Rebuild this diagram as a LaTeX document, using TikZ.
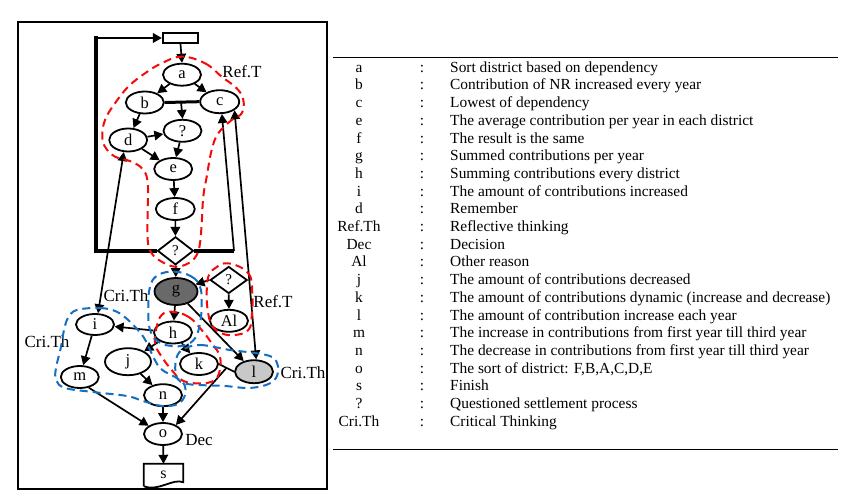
\documentclass[tikz,border=0pt]{standalone}
\usepackage{fontspec}
\setmainfont{Liberation Serif}
\usetikzlibrary{arrows.meta,shapes.geometric}
\definecolor{rdash}{RGB}{245,10,10}
\definecolor{bdash}{RGB}{20,110,195}
\definecolor{gdark}{RGB}{105,105,105}
\definecolor{glight}{RGB}{200,200,200}
\newcommand{\tabrow}[4]{%
  \node[tb, anchor=base] (k#1) at (359,#2) {#3};
  \node[tb, anchor=base] (c#1) at (422,#2) {:};
  \node[tb, anchor=base west] (d#1) at (450,#2) {#4};}
\begin{document}
\begin{tikzpicture}[x=1pt,y=-1pt,
  el/.style={ellipse, draw, fill=white, line width=1.8pt, inner sep=0pt,
    minimum width=38pt, minimum height=22pt, font=\fontsize{16.5}{18}\selectfont},
  dia/.style={diamond, draw, fill=white, line width=1.8pt, inner sep=0pt, aspect=1.3,
    minimum width=36pt, minimum height=28pt, font=\fontsize{15}{17}\selectfont},
  arr/.style={line width=1.7pt, -{Triangle[length=9pt,width=9.5pt]}},
  darr/.style={line width=1.7pt, {Triangle[length=9pt,width=9.5pt]}-{Triangle[length=9pt,width=9.5pt]}},
  conn/.style={line width=1.7pt},
  thickl/.style={line width=3.5pt},
  rdsh/.style={draw=rdash, line width=2pt, dash pattern=on 8pt off 5pt},
  bdsh/.style={draw=bdash, line width=2pt, dash pattern=on 8pt off 5pt},
  lbl/.style={font=\fontsize{17}{19}\selectfont, inner sep=0pt},
  tb/.style={font=\fontsize{15.4}{17.7}\selectfont, inner sep=0pt}
]
\useasboundingbox (0,0) rectangle (846,502);
\fill[white] (0,0) rectangle (846,502);

% frame of the diagram
\draw[line width=2pt] (18,22) rectangle (327,489);

% labels
\node[lbl] (rt1) at (242,72) {Ref.T};
\node[lbl] (rt2) at (273,302) {Ref.T};
\node[lbl] (ct1) at (126,296) {Cri.Th};
\node[lbl] (ct2) at (47,342) {Cri.Th};
\node[lbl] (ct3) at (303,373) {Cri.Th};
\node[lbl] (dec) at (199,440) {Dec};

% nodes
\node[draw, line width=2.2pt, minimum width=35pt, minimum height=10pt, inner sep=0pt] (st) at (180.5,38) {};
\node[el] (a) at (182,74.7) {a};
\node[el] (b) at (144.8,102.5) {b};
\node[el, minimum width=39pt, minimum height=23pt] (c) at (219.7,101.7) {c};
\node[el] (q1) at (182.5,130.8) {?};
\node[el, minimum height=23pt] (d) at (128.2,140) {d};
\node[el] (e) at (173.2,169) {e};
\node[el, minimum width=39pt] (f) at (175.3,209) {f};
\node[dia] (q2) at (175.5,250.8) {?};
\node[el, fill=gdark, minimum width=43pt, minimum height=27pt] (g) at (176,291.5) {g};
\node[dia, minimum width=37pt, minimum height=27pt] (q3) at (228.7,280) {?};
\node[el] (al) at (229,320.8) {Al};
\node[el] (h) at (173,332.5) {h};
\node[el, minimum height=21pt] (i) at (95,324.5) {i};
\node[el, minimum width=46pt, minimum height=27pt] (j) at (128,361.7) {j};
\node[el] (k) at (199,364) {k};
\node[el, fill=glight, minimum height=23pt] (l) at (254,371.7) {l};
\node[el] (m) at (79.8,377) {m};
\node[el] (n) at (163,395.2) {n};
\node[el] (o) at (163,434) {o};
\node[inner sep=0pt, minimum width=39pt, minimum height=22pt, font=\fontsize{16}{18}\selectfont] (s) at (163.5,475) {s};
\draw[line width=1.8pt] (s.south west) -- (s.north west) -- (s.north east) -- ([yshift=4pt]s.south east)
  .. controls (173,478) and (158,492) .. (s.south west);

% connectors
\draw[arr] (st.south) -- (a.north);
\draw[arr] (a) -- (b);
\draw[arr] (a) -- (c);
\draw[line width=3pt] (b.east) -- (c.west);
\coordinate (bc) at (181,101.5);
\draw[arr] (bc) -- (q1.north);
\draw[arr] (b) -- (d);
\draw[arr] (d) -- (q1);
\draw[arr] (d) -- (e);
\draw[arr] (q1) -- (e);
\draw[arr] (e) -- (f);
\draw[arr] (f) -- (q2);
\draw[arr] (q2) -- (g);
\coordinate (lp1) at (96,250.8);
\coordinate (lp2) at (96,36.3);
\coordinate (lp3) at (96,38);
\draw[thickl] (q2.west) -- (lp1) -- (lp2);
\draw[arr, line width=2pt] (lp3) -- (st.west);
\coordinate (rp) at (234,250.8);
\draw[thickl] (q2.east) -- (rp);
\draw[arr] (rp) -- (c.-80);
\draw[darr] (l.80) -- (c.-30);
\draw[darr] (i.75) -- (d.-110);
\draw[arr] (q3.west) -- (g.20);
\draw[arr] (q3.south) -- (al.north);
\draw[arr] (g) -- (h);
\draw[arr] (g) -- (l);
\draw[arr] (h) -- (i);
\draw[arr] (h) -- (j);
\draw[arr] (h) -- (k);
\draw[arr] (i) -- (m);
\draw[arr] (j) -- (n);
\draw[conn] (k.east) -- (l.west);
\path (k.east) -- (l.west) coordinate[pos=0.5] (kl);
\draw[arr] (kl) -- (o.35);
\draw[arr] (m.-50) -- (o.150);
\draw[arr] (n) -- (o);
\draw[arr] (o) -- (s.north);

% dashed groupings
\draw[rdsh] plot[smooth cycle, tension=0.7] coordinates {
 (181.7,56.7) (205,63.3) (221.7,76.7) (236.7,88.3) (243.3,100) (241.7,113.3)
 (231.7,120) (218.3,133.3) (211.7,150) (206.7,176.7) (203.3,196.7) (201.7,223.3)
 (200,243.3) (196.7,255) (188.3,263.3) (175,266.7) (161.7,261.7) (151.7,253.3)
 (147.7,240) (147.7,210) (147.7,183.3) (143.3,170) (131.7,161.7) (115,156.7)
 (105,146.7) (102.3,136.7) (105,120) (115,103.3) (128.3,86.7) (145,73.3) (161.7,63.3)};
\draw[rdsh] plot[smooth cycle, tension=0.7] coordinates {
 (228.3,263.3) (248.3,273.3) (252.3,293.3) (251.7,316.7) (248.3,330) (235,335)
 (221.7,333.3) (211.7,325) (207.7,310) (206.7,293.3) (208.3,276.7) (215,268.3)};
\draw[rdsh] plot[smooth cycle, tension=0.7] coordinates {
 (171.7,311.7) (188.3,316.7) (201.7,330) (211.7,343.3) (220,356.7) (219,373.3)
 (211.7,381.7) (195,383.3) (181.7,380) (171.7,370) (161.7,356.7) (155,343.3)
 (156.7,326.7) (161.7,315)};
\draw[bdsh] plot[smooth cycle, tension=0.7] coordinates {
 (175,271.7) (191.7,276.7) (200,286.7) (201.7,303.3) (200,323.3) (195,338.3)
 (185,345) (171.7,346) (158.3,341.7) (150,330) (148.3,310) (150,286.7) (158.3,275)};
\draw[bdsh] plot[smooth cycle, tension=0.6] coordinates {
 (76.7,310) (100,308) (116.7,311.7) (130,321.7) (143.3,336.7) (150,350) (160,368)
 (175,377) (184,384) (185,395) (178,404) (162,406) (143,401) (127,396) (93,392)
 (65,388) (56,380) (56,368) (61,347) (64,330) (68,318)};
\draw[bdsh] plot[smooth cycle, tension=0.6] coordinates {
 (182,350) (200,345) (230,350) (255,353) (272,357) (278,366) (276,378) (266,385)
 (248,388) (225,386) (200,385) (183,383) (176,375) (176,360)};

% legend table
\coordinate (tl1) at (333,58); \coordinate (tr1) at (838,58);
\coordinate (tl2) at (333,449); \coordinate (tr2) at (838,449);
\draw[line width=1pt] (tl1) -- (tr1);
\draw[line width=1pt] (tl2) -- (tr2);
\tabrow{1}{72.3}{a}{Sort district based on dependency}
\tabrow{2}{90.0}{b}{Contribution of NR increased every year}
\tabrow{3}{107.7}{c}{Lowest of dependency}
\tabrow{4}{125.4}{e}{The average contribution per year in each district}
\tabrow{5}{143.1}{f}{The result is the same}
\tabrow{6}{160.8}{g}{Summed contributions per year}
\tabrow{7}{178.5}{h}{Summing contributions every district}
\tabrow{8}{196.2}{i}{The amount of contributions increased}
\tabrow{9}{213.9}{d}{Remember}
\tabrow{10}{231.6}{Ref.Th}{Reflective thinking}
\tabrow{11}{249.3}{Dec}{Decision}
\tabrow{12}{267.0}{Al}{Other reason}
\tabrow{13}{284.7}{j}{The amount of contributions decreased}
\tabrow{14}{302.4}{k}{The amount of contributions dynamic (increase and decrease)}
\tabrow{15}{320.1}{l}{The amount of contribution increase each year}
\tabrow{16}{337.8}{m}{The increase in contributions from first year till third year}
\tabrow{17}{355.5}{n}{The decrease in contributions from first year till third year}
\tabrow{18}{373.2}{o}{The sort of district: F,B,A,C,D,E}
\tabrow{19}{390.9}{s}{Finish}
\tabrow{20}{408.6}{?}{Questioned settlement process}
\tabrow{21}{426.3}{Cri.Th}{Critical Thinking}
\end{tikzpicture}
\end{document}
